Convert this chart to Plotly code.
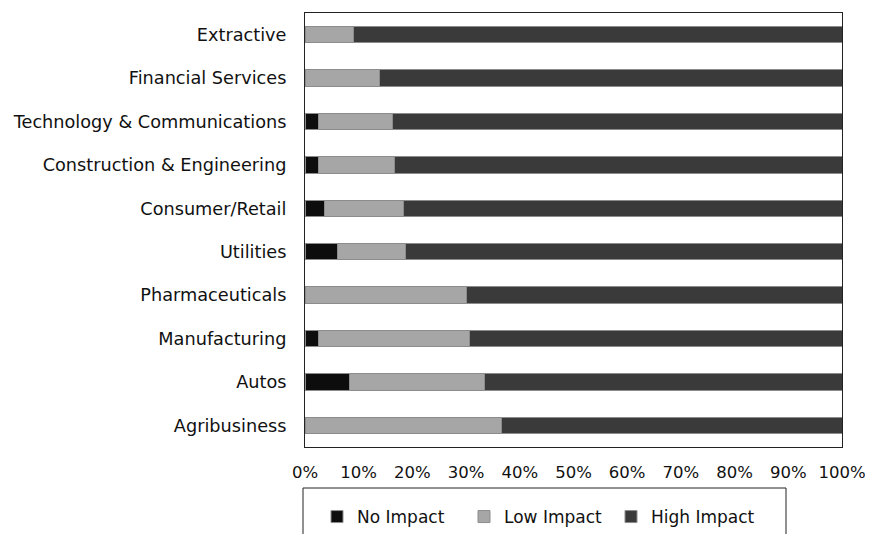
import plotly.graph_objects as go

categories = ["Extractive", "Financial Services", "Technology & Communications",
              "Construction & Engineering", "Consumer/Retail", "Utilities",
              "Pharmaceuticals", "Manufacturing", "Autos", "Agribusiness"]
no_impact = [0.0, 0.0, 2.6, 2.6, 3.6, 6.1, 0.0, 2.6, 8.2, 0.0]
low_impact = [9.0, 13.9, 13.7, 14.1, 14.7, 12.6, 30.0, 28.1, 25.3, 36.6]
high_impact = [round(100 - a - b, 1) for a, b in zip(no_impact, low_impact)]
tick_vals = [0, 10, 20, 30, 40, 50, 60, 70, 80, 90, 100]
tick_text = [f"{v}%" for v in tick_vals]

FONT = "DejaVu Sans"
series = [("No Impact", no_impact, "#0d0d0d"),
          ("Low Impact", low_impact, "#a6a6a6"),
          ("High Impact", high_impact, "#3a3a3a")]

fig = go.Figure()
for name, vals, col in series:
    fig.add_trace(go.Bar(
        y=categories, x=vals, name=name, orientation="h",
        marker=dict(color=col, line=dict(color="#8c8c8c", width=1)),
    ))

# page body has an 8px margin, so the figure is offset by 8px
OFF = 8
W, H = 873 - OFF, 534 - OFF
ml, mt = 305 - OFF, 13 - OFF
mr = 873 - 842
mb = 534 - 447
pw, ph = W - ml - mr, H - mt - mb

def px_x(p):
    return (p - OFF - ml) / pw

def px_y(p):
    return (mt + ph - (p - OFF)) / ph

fig.update_layout(
    width=W, height=H, barmode="stack", bargap=0.62,
    plot_bgcolor="white", paper_bgcolor="white",
    margin=dict(l=ml, r=mr, t=mt, b=mb, autoexpand=False),
    font=dict(family=FONT, size=17, color="#111111"),
    showlegend=True,
    legend=dict(orientation="h", x=px_x(317), xanchor="left",
                y=px_y(499), yanchor="top", entrywidth=102, entrywidthmode="pixels",
                font=dict(family=FONT, size=17, color="#111111"),
                bgcolor="rgba(0,0,0,0)", traceorder="normal"),
    shapes=[dict(type="rect", xref="paper", yref="paper",
                 x0=px_x(303), x1=px_x(786), y0=px_y(488), y1=px_y(545),
                 line=dict(color="#222222", width=1), fillcolor="rgba(0,0,0,0)")],
)
fig.update_xaxes(range=[0, 100], tickvals=tick_vals, ticktext=tick_text,
                 showgrid=False, zeroline=False, showline=True, linecolor="#222222",
                 linewidth=1, mirror=True, ticks="", ticklabelstandoff=10,
                 ticklabeloverflow="allow",
                 tickfont=dict(family=FONT, size=16.5, color="#111111"))
fig.update_yaxes(categoryorder="array", categoryarray=categories, autorange="reversed",
                 showgrid=False, zeroline=False, showline=True, linecolor="#222222",
                 linewidth=1, mirror=True, ticks="", ticklabelstandoff=14,
                 tickfont=dict(family=FONT, size=17.7, color="#111111"))

fig.write_html("out.html")
